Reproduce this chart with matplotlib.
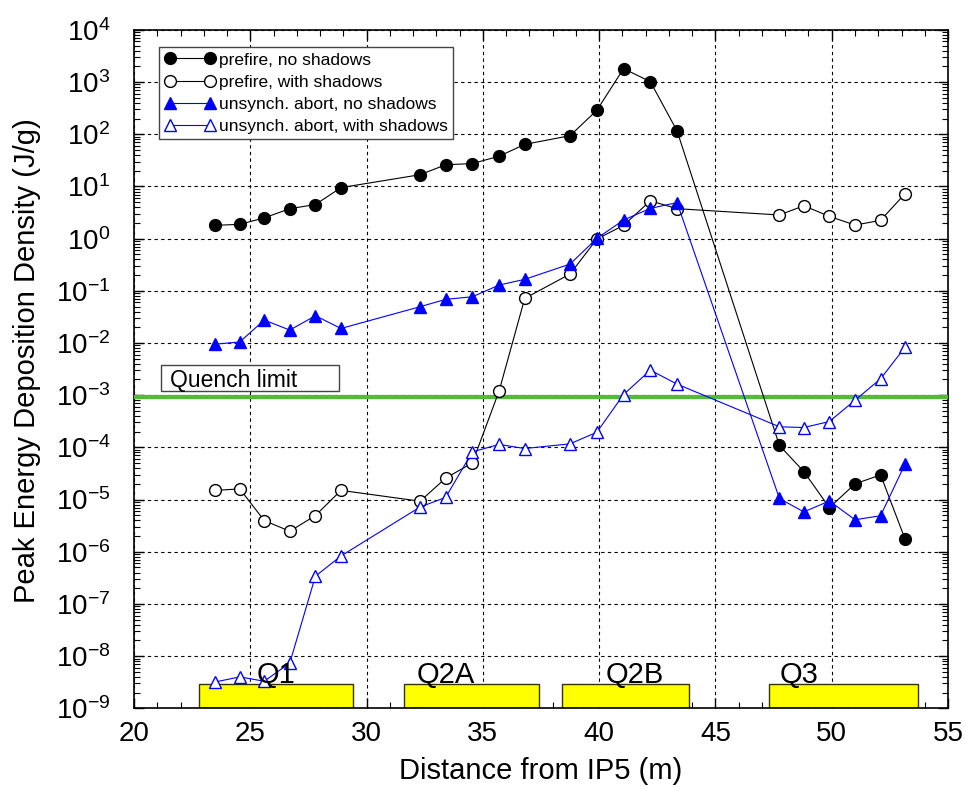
import matplotlib
matplotlib.use("Agg")
from matplotlib import pyplot as plt
from matplotlib.patches import Rectangle
from matplotlib.ticker import LogLocator, MultipleLocator, NullFormatter

plt.rcParams["font.family"] = ["Liberation Sans", "DejaVu Sans"]
plt.rcParams["mathtext.default"] = "regular"

# distance from IP5 (m), same for all four curves
distance = [23.5, 24.55, 25.6, 26.7, 27.8, 28.9, 32.3, 33.4, 34.55, 35.7, 36.8,
            38.75, 39.9, 41.05, 42.2, 43.35, 47.75, 48.8, 49.9, 51.0, 52.1, 53.15]

prefire_no = [1.8, 1.88, 2.5, 3.75, 4.5, 9.5, 16.8, 26, 27.5, 38, 64,
              94, 288, 1810, 1020, 116, 1.09e-4, 3.44e-5, 7.0e-6, 2.0e-5, 2.97e-5, 1.76e-6]
prefire_sh = [1.5e-5, 1.6e-5, 3.96e-6, 2.47e-6, 4.94e-6, 1.5e-5, 9.3e-6, 2.57e-5, 5.05e-5, 1.21e-3, 0.0716,
              0.21, 0.98, 1.8, 5.3, 3.75, 2.84, 4.27, 2.67, 1.82, 2.24, 7.26]
abort_no = [9.5e-3, 0.0105, 0.0275, 0.0177, 0.0333, 0.019, 0.0496, 0.0686, 0.077, 0.129, 0.166,
            0.326, 1.01, 2.27, 3.8, 4.9, 1.05e-5, 5.8e-6, 9.4e-6, 4.1e-6, 4.9e-6, 4.77e-5]
abort_sh = [3.2e-9, 4e-9, 3.3e-9, 7.4e-9, 3.4e-7, 8.3e-7, 7.2e-6, 1.1e-5, 8.2e-5, 1.14e-4, 9.5e-5,
            1.17e-4, 1.95e-4, 1.03e-3, 3.02e-3, 1.63e-3, 2.48e-4, 2.4e-4, 3.13e-4, 8.0e-4, 2.06e-3, 8.3e-3]

quench_limit = 9.2e-4

# magnets along the beam line
magnet_names = ["Q1", "Q2A", "Q2B", "Q3"]
magnet_start = [22.8, 31.6, 38.4, 47.3]
magnet_end = [29.4, 37.4, 43.85, 53.7]
magnet_label_x = [26.1, 33.4, 41.55, 48.6]
magnet_top = 2.9e-9

fig = plt.figure(figsize=(9.66, 7.87), dpi=100)
ax = fig.add_axes([0.1387, 0.100, 0.8427, 0.862])
ax.set_yscale("log")
ax.set_xlim(20, 55)
ax.set_ylim(1e-9, 1e4)

ax.grid(True, which="major", color="black", linestyle=(0, (3, 3)), linewidth=0.8)
ax.set_axisbelow(True)

widths = [e - s for s, e in zip(magnet_start, magnet_end)]
ax.bar(magnet_start, magnet_top - 1e-9, width=widths, bottom=1e-9, align="edge",
       color="#ffff00", edgecolor="#333300", linewidth=1.0, zorder=2)
for name, lx in zip(magnet_names, magnet_label_x):
    ax.text(lx, 3.0e-9, name, ha="center", va="baseline", fontsize=21, zorder=6)

ax.axhline(quench_limit, color="#55b93a", linewidth=3, zorder=3)
ax.add_patch(Rectangle((0.0332, 0.468), 0.2187, 0.038, transform=ax.transAxes,
                       facecolor="white", edgecolor="#444444", linewidth=1.0, zorder=4))
ax.text(0.044, 0.474, "Quench limit", transform=ax.transAxes, fontsize=16.5, zorder=5)

ms = 8.5
ax.plot(distance, prefire_no, "-o", color="black", lw=0.8, ms=ms, mfc="black",
        mec="black", label="prefire, no shadows", zorder=5)
ax.plot(distance, prefire_sh, "-o", color="black", lw=0.8, ms=ms, mfc="white",
        mec="black", mew=1.0, label="prefire, with shadows", zorder=5)
ax.plot(distance, abort_no, "-^", color="blue", lw=0.8, ms=ms, mfc="blue",
        mec="blue", label="unsynch. abort, no shadows", zorder=5)
ax.plot(distance, abort_sh, "-^", color="blue", lw=0.8, ms=ms, mfc="white",
        mec="blue", mew=1.0, label="unsynch. abort, with shadows", zorder=5)

leg = ax.legend(loc="upper left", bbox_to_anchor=(0.031, 0.9745), borderaxespad=0,
                fontsize=12.5, numpoints=2, handlelength=2.9, handletextpad=0.25,
                labelspacing=0.4, borderpad=0.3, fancybox=False, framealpha=1)
leg.get_frame().set_edgecolor("#444444")
leg.get_frame().set_linewidth(1.0)

ax.xaxis.set_major_locator(MultipleLocator(5))
ax.xaxis.set_minor_locator(MultipleLocator(1))
ax.yaxis.set_major_locator(LogLocator(base=10, numticks=20))
ax.yaxis.set_minor_locator(LogLocator(base=10, subs=range(2, 10), numticks=200))
ax.yaxis.set_minor_formatter(NullFormatter())
ax.tick_params(which="both", direction="in", top=True, right=True, labelsize=20)
ax.tick_params(which="major", length=7, width=1)
ax.tick_params(which="minor", length=4, width=0.8)
ax.tick_params(axis="x", which="major", pad=9)
ax.tick_params(axis="y", which="major", pad=17)
for sp in ax.spines.values():
    sp.set_linewidth(1.2)

ax.set_xlabel("Distance from IP5 (m)", fontsize=21, labelpad=7)
ax.set_ylabel("Peak Energy Deposition Density (J/g)", fontsize=21)
ax.yaxis.set_label_coords(-0.114, 0.513)

plt.savefig("out.png", dpi=100)
